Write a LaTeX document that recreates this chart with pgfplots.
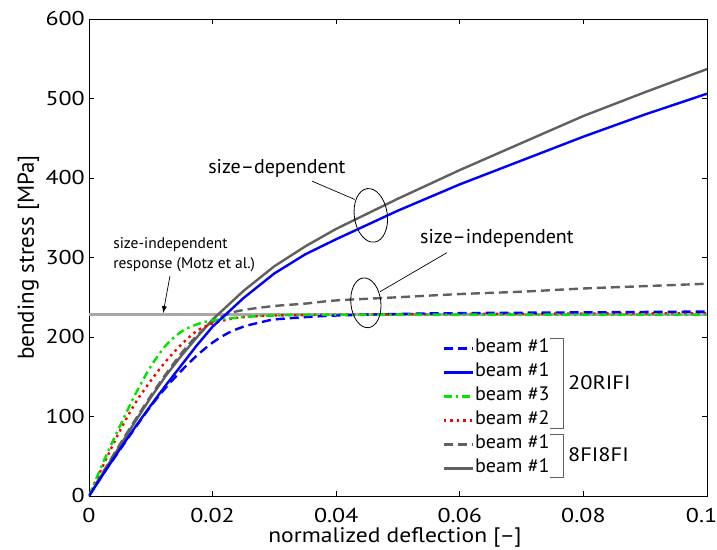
\documentclass[border=0pt]{standalone}
\usepackage{pgfplots}
\pgfplotsset{compat=1.18}
\usetikzlibrary{arrows.meta}
\usepackage{fontspec}
\setmainfont{PT Sans}
\definecolor{dgray}{RGB}{96,96,96}
\definecolor{lgray}{RGB}{168,168,168}
\definecolor{pblue}{RGB}{0,0,255}
\definecolor{pgreen}{RGB}{0,230,0}
\definecolor{pred}{RGB}{255,0,0}
\newcommand\sx[2][1.15]{\scalebox{#1}[1]{#2}}

\pgfplotstableread{
x y
0 0
0.0025 32
0.005 63
0.0075 94
0.01 124
0.0125 152
0.015 177
0.0175 200
0.02 222
0.025 258
0.03 289
0.035 314
0.04 336
0.045 355
0.05 374
0.06 410
0.07 444
0.08 478
0.09 508
0.1 537
}\graysolid

\pgfplotstableread{
x y
0 0
0.0025 33
0.005 65
0.0075 96
0.01 126
0.0125 154
0.015 180
0.0175 202
0.02 219
0.0225 229
0.025 234
0.03 239
0.035 242
0.04 246
0.05 250
0.06 254
0.07 257
0.08 261
0.09 264
0.1 267
}\graydashed

\pgfplotstableread{
x y
0 0
0.0025 30
0.005 59
0.0075 87
0.01 114
0.0125 140
0.015 165
0.0175 190
0.02 213
0.025 249
0.03 280
0.035 304
0.04 323
0.045 341
0.05 359
0.06 392
0.07 422
0.08 452
0.09 480
0.1 506
}\bluesolid

\pgfplotstableread{
x y
0 0
0.0025 30
0.005 58
0.0075 86
0.01 113
0.0125 137
0.015 158
0.0175 177
0.02 193
0.0225 205
0.025 213
0.0275 218
0.03 222
0.035 225
0.04 227
0.05 229
0.06 230
0.08 231
0.1 232
}\bluedashed

\pgfplotstableread{
x y
0 0
0.0025 42
0.005 82
0.0075 117
0.01 145
0.0125 170
0.015 191
0.0175 208
0.02 217
0.0225 222
0.025 225
0.03 227
0.04 228
0.06 229
0.1 230
}\reddotted

\pgfplotstableread{
x y
0 0
0.0025 46
0.005 88
0.0075 128
0.01 163
0.0125 190
0.015 207
0.0175 216
0.02 221
0.025 225
0.03 227
0.04 228
0.1 228
}\greendashdot

\begin{document}
\begin{tikzpicture}
\begin{axis}[
  scale only axis, width=618pt, height=477pt,
  xmin=0, xmax=0.1, ymin=0, ymax=600,
  xtick={0,0.02,0.04,0.06,0.08,0.1},
  xticklabels={0,0.02,0.04,0.06,0.08,\hspace*{-9pt}0.1},
  ytick={0,100,200,300,400,500,600},
  scaled x ticks=false,
  xticklabel style={anchor=north, inner sep=0pt, yshift=-12pt, xscale=1.2},
  yticklabel style={anchor=east, inner sep=0pt, xshift=-4pt, xscale=1.2},
  /pgf/number format/assume math mode=true,
  tick align=inside, major tick length=5pt,
  tick style={black, line width=0.7pt},
  axis line style={line width=0.7pt},
  ticklabel style={font=\fontsize{20}{24}\selectfont},
  xlabel={\sx[1.12]{normalized deflection [–]}},
  ylabel={bending stress [MPa]},
  xlabel style={font=\fontsize{21}{24}\selectfont, at={([yshift=-46.7pt]axis description cs:0.495,0)}, anchor=base, inner sep=0pt},
  ylabel style={font=\fontsize{23}{26}\selectfont, at={([xshift=-55pt]axis description cs:0,0.5)}, anchor=base, inner sep=0pt},
  legend style={draw=none, fill=none, at={(axis description cs:0.572,0.332)}, anchor=north west,
    font=\fontsize{19.5}{22}\selectfont, row sep=3pt, inner sep=0pt,
    nodes={inner xsep=1pt, inner ysep=1pt, text height=14pt, text depth=5pt}},
  legend cell align=left,
  legend image code/.code={\draw[#1] (0pt,0pt) -- (29pt,0pt);},
]
\coordinate (ll) at (rel axis cs:0,0);
\coordinate (ur) at (rel axis cs:1,1);
\addplot[lgray, line width=2.5pt, forget plot] coordinates {(0,228) (0.1,228)};
\addplot[dgray, line width=2.4pt, forget plot] table {\graysolid};
\addplot[dgray, line width=2.4pt, smooth, tension=0.5, dash pattern=on 9pt off 5pt, forget plot] table {\graydashed};
\addplot[pred, line width=2.4pt, smooth, tension=0.5, dash pattern=on 2.5pt off 4pt, forget plot] table {\reddotted};
\addplot[pblue, line width=2.4pt, smooth, tension=0.5, dash pattern=on 9pt off 5pt, forget plot] table {\bluedashed};
\addplot[pgreen, line width=2.4pt, smooth, tension=0.5, dash pattern=on 8pt off 4pt on 2.5pt off 4pt, forget plot] table {\greendashdot};
\addplot[pblue, line width=2.4pt, forget plot] table {\bluesolid};

\addlegendimage{pblue, line width=2.4pt, dash pattern=on 9pt off 5pt}
\addlegendentry{\sx[1.03]{beam \#1}}
\addlegendimage{pblue, line width=2.4pt}
\addlegendentry{\sx[1.03]{beam \#1}}
\addlegendimage{pgreen, line width=2.4pt, dash pattern=on 8pt off 4pt on 2.5pt off 4pt}
\addlegendentry{\sx[1.03]{beam \#3}}
\addlegendimage{pred, line width=2.4pt, dash pattern=on 2.5pt off 4pt}
\addlegendentry{\sx[1.03]{beam \#2}}
\addlegendimage{dgray, line width=2.4pt, dash pattern=on 9pt off 5pt}
\addlegendentry{\sx[1.03]{beam \#1}}
\addlegendimage{dgray, line width=2.4pt}
\addlegendentry{\sx[1.03]{beam \#1}}

% brackets
\draw[dgray, line width=0.8pt] (axis cs:0.0746,198.7) -| (axis cs:0.0767,85.5) -- (axis cs:0.0746,85.5);
\draw[dgray, line width=0.8pt] (axis cs:0.0746,78) -| (axis cs:0.0767,23.9) -- (axis cs:0.0746,23.9);
\node[anchor=west, font=\fontsize{19.5}{22}\selectfont, inner sep=0pt] at (axis cs:0.0775,143) {\sx{20RIFI}};
\node[anchor=west, font=\fontsize{19.5}{22}\selectfont, inner sep=0pt] at (axis cs:0.0775,51.6) {\sx{8FI8FI}};

% annotations
\node[font=\fontsize{20}{22}\selectfont, inner sep=0pt] at (axis cs:0.0304,412.6) {size–dependent};
\draw[line width=0.7pt] (axis cs:0.0361,396) -- (axis cs:0.0430,373);
\draw[line width=0.8pt] (axis cs:0.0456,353) ellipse [x radius=16.5pt, y radius=27pt, rotate=8];

\node[font=\fontsize{20}{22}\selectfont, inner sep=0pt] at (axis cs:0.066,324.5) {size–independent};
\draw[line width=0.7pt] (axis cs:0.0579,306) -- (axis cs:0.0471,257);
\draw[line width=0.8pt] (axis cs:0.0448,243) ellipse [x radius=15pt, y radius=25pt, rotate=6];

\node[anchor=west, align=left, font=\fontsize{15.5}{20}\selectfont, inner sep=0pt] at (axis cs:0.0039,304) {size-independent\\response (Motz et al.)};
\draw[line width=0.7pt, -{Latex[length=7pt,width=5pt]}] (axis cs:0.0131,276.7) -- (axis cs:0.0120,230);
\end{axis}
\pgfresetboundingbox
\path[use as bounding box] ([shift={(-89pt,-54pt)}]ll) rectangle ([shift={(10pt,19pt)}]ur);
\end{tikzpicture}
\end{document}
